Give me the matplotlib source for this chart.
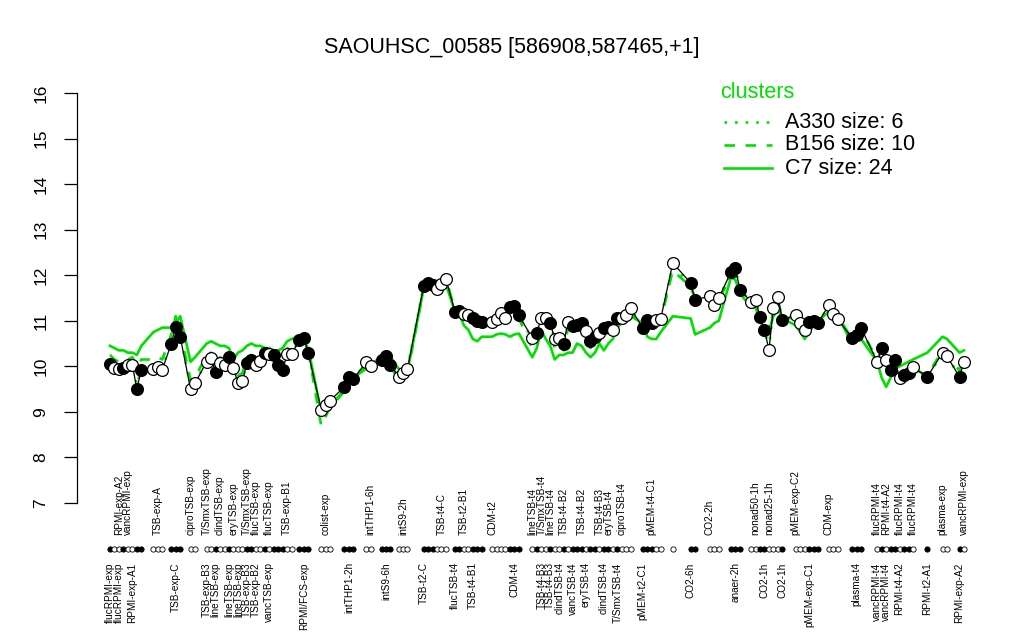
import matplotlib
matplotlib.use('Agg')
import matplotlib.pyplot as plt
from matplotlib.lines import Line2D

plt.rcParams['font.family'] = ['Liberation Sans', 'DejaVu Sans']

title = "SAOUHSC_00585 [586908,587465,+1]"
GREEN = '#00E000'

# ---- expression values, grouped by condition block ----
group_values = [
    [10.05, 9.97, 9.95, 9.97, 10.03, 10.03, 9.5, 9.93],
    [9.95, 9.99, 9.93],
    [10.5, 10.87, 10.65],
    [9.5, 9.63],
    [10.1, 10.18, 9.88, 10.07, 10.03, 10.2, 9.97, 9.63, 9.67, 10.07, 10.14, 10.03, 10.12, 10.3, 10.28, 10.25, 10.03, 9.91, 10.28, 10.26],
    [10.58, 10.62, 10.3],
    [9.05, 9.15, 9.25],
    [9.55, 9.77, 9.72],
    [10.1, 10.0],
    [10.14, 10.22, 10.03],
    [9.77, 9.85, 9.94],
    [11.76, 11.83, 11.78],
    [11.7, 11.8, 11.92],
    [11.2, 11.22, 11.15, 11.13, 11.05, 11.0, 10.97],
    [10.97, 11.03, 11.17, 11.05, 11.3, 11.32, 11.12],
    [10.62, 10.73, 11.06, 11.05, 10.95, 10.6, 10.62, 10.5, 10.98, 10.88, 10.9, 10.95, 10.78, 10.55, 10.65, 10.73, 10.84, 10.86, 10.8, 11.06, 11.05, 11.13, 11.27],
    [10.84, 11.02, 10.95, 11.02, 11.04],
    [12.27],
    [11.83, 11.45],
    [11.55, 11.35, 11.5],
    [12.07, 12.16, 11.68],
    [11.42, 11.46, 11.08, 10.8, 10.36, 11.28, 11.53, 11.02],
    [11.13, 10.95, 10.8, 10.97, 11.0, 10.95],
    [11.35, 11.15, 11.03],
    [10.62, 10.68, 10.84],
    [10.1, 10.4, 10.13, 9.92, 10.13, 9.74, 9.8, 9.86, 9.98],
    [9.77],
    [10.3, 10.22],
    [9.77, 10.1],
]

group_filled = [
    [1, 0, 0, 1, 0, 0, 1, 1],
    [0, 0, 0],
    [1, 1, 1],
    [0, 0],
    [0, 0, 1, 0, 0, 1, 0, 0, 0, 1, 1, 0, 0, 1, 0, 1, 1, 1, 0, 0],
    [1, 1, 1],
    [0, 0, 0],
    [1, 1, 1],
    [0, 0],
    [1, 1, 1],
    [0, 0, 0],
    [1, 1, 1],
    [0, 0, 0],
    [1, 1, 0, 0, 1, 1, 1],
    [0, 0, 0, 0, 1, 1, 1],
    [0, 1, 0, 0, 1, 0, 0, 1, 0, 1, 1, 1, 0, 1, 1, 0, 1, 1, 0, 1, 0, 0, 0],
    [1, 1, 1, 0, 0],
    [0],
    [1, 1],
    [0, 0, 0],
    [1, 1, 1],
    [0, 0, 1, 1, 0, 0, 0, 1],
    [0, 0, 0, 1, 1, 1],
    [0, 0, 0],
    [1, 1, 1],
    [0, 1, 0, 1, 1, 0, 1, 1, 0],
    [1],
    [0, 0],
    [1, 0],
]

# ---- cluster mean profiles ----
dotted_A330 = [
    [10.1, 10.0, 9.95, 10.0, 10.05, 10.05, 9.6, 9.95],
    [9.95, 10.0, 9.95],
    [10.55, 10.9, 10.7],
    [9.55, 9.65],
    [10.1, 10.2, 9.9, 10.1, 10.05, 10.2, 10.0, 9.65, 9.7, 10.1, 10.15, 10.05, 10.15, 10.3, 10.3, 10.25, 10.05, 9.95, 10.3, 10.25],
    [10.6, 10.6, 10.3],
    [9.0, 9.15, 9.25],
    [9.55, 9.75, 9.7],
    [10.1, 10.0],
    [10.15, 10.2, 10.05],
    [9.75, 9.85, 9.95],
    [11.75, 11.85, 11.8],
    [11.7, 11.8, 11.95],
    [11.2, 11.2, 11.15, 11.1, 11.05, 11.0, 10.95],
    [10.95, 11.05, 11.15, 11.05, 11.3, 11.3, 11.1],
    [10.6, 10.75, 11.05, 11.05, 10.95, 10.6, 10.6, 10.5, 10.95, 10.9, 10.9, 10.95, 10.8, 10.55, 10.65, 10.75, 10.85, 10.85, 10.8, 11.05, 11.05, 11.15, 11.25],
    [10.85, 11.0, 10.95, 11.0, 11.05],
    [12.2],
    [11.8, 11.45],
    [11.55, 11.35, 11.5],
    [12.05, 12.15, 11.7],
    [11.4, 11.45, 11.1, 10.8, 10.4, 11.3, 11.5, 11.0],
    [11.15, 10.95, 10.8, 10.95, 11.0, 10.95],
    [11.35, 11.15, 11.05],
    [10.6, 10.7, 10.85],
    [10.1, 10.4, 10.15, 9.9, 10.1, 9.75, 9.8, 9.85, 10.0],
    [9.75],
    [10.3, 10.2],
    [9.8, 10.1],
]

dashed_B156 = [
    [10.25, 10.15, 10.1, 10.1, 10.15, 10.2, 10.0, 10.15],
    [10.15, 10.2, 10.15],
    [10.7, 11.1, 10.75],
    [9.7, 9.75],
    [10.25, 10.3, 10.0, 10.2, 10.15, 10.3, 10.05, 9.8, 9.85, 10.2, 10.25, 10.15, 10.25, 10.35, 10.35, 10.3, 10.1, 10.05, 10.4, 10.35],
    [10.65, 10.6, 10.35],
    [8.7, 8.9, 9.1],
    [9.45, 9.7, 9.65],
    [10.05, 10.0],
    [10.1, 10.15, 10.0],
    [9.7, 9.8, 9.85],
    [11.7, 11.8, 11.75],
    [11.75, 11.8, 11.9],
    [11.25, 11.2, 11.1, 11.05, 10.95, 10.9, 10.9],
    [10.95, 11.0, 11.1, 11.0, 11.25, 11.25, 11.05],
    [10.4, 10.6, 11.0, 10.95, 10.85, 10.4, 10.5, 10.35, 10.85, 10.8, 10.85, 10.85, 10.6, 10.4, 10.55, 10.6, 10.75, 10.8, 10.7, 11.0, 11.0, 11.1, 11.2],
    [10.8, 10.95, 10.9, 10.95, 11.0],
    [12.1],
    [11.75, 11.5],
    [11.5, 11.35, 11.45],
    [12.0, 12.1, 11.6],
    [11.4, 11.45, 11.05, 10.85, 10.7, 11.25, 11.45, 11.0],
    [11.1, 11.0, 10.85, 10.95, 11.0, 10.95],
    [11.3, 11.2, 11.1],
    [10.6, 10.7, 10.8],
    [10.15, 10.35, 10.1, 9.85, 10.05, 9.7, 9.75, 9.8, 9.95],
    [9.8],
    [10.35, 10.3],
    [9.9, 10.2],
]

solid_C7 = [
    [10.45, 10.4, 10.35, 10.35, 10.3, 10.3, 10.25, 10.45],
    [10.75, 10.8, 10.85],
    [10.85, 10.95, 11.1],
    [10.1, 10.2],
    [10.5, 10.55, 10.5, 10.45, 10.45, 10.4, 10.15, 10.3, 10.35, 10.45, 10.5, 10.45, 10.45, 10.4, 10.4, 10.35, 10.35, 10.4, 10.55, 10.6],
    [10.65, 10.55, 10.4],
    [9.0, 9.0, 9.1],
    [9.5, 9.7, 9.75],
    [9.95, 10.05],
    [10.2, 10.25, 10.2],
    [9.95, 9.85, 9.9],
    [11.7, 11.75, 11.75],
    [11.8, 11.85, 11.8],
    [11.2, 11.15, 10.9, 10.8, 10.6, 10.55, 10.65],
    [10.65, 10.7, 10.72, 10.7, 10.65, 10.7, 10.72],
    [10.2, 10.4, 10.8, 10.6, 10.45, 10.15, 10.25, 10.25, 10.3, 10.3, 10.5, 10.45, 10.3, 10.2, 10.3, 10.5, 10.35, 10.5, 10.6, 10.85, 10.95, 11.05, 11.1],
    [10.95, 10.65, 10.6, 10.6, 10.75],
    [11.1],
    [11.05, 10.7],
    [10.85, 10.95, 11.0],
    [11.95, 11.9, 11.6],
    [11.3, 11.3, 11.0, 10.8, 10.8, 11.1, 11.25, 11.05],
    [10.9, 10.75, 10.6, 10.75, 10.9, 11.0],
    [11.2, 11.25, 11.1],
    [10.5, 10.55, 10.6],
    [10.1, 9.75, 9.55, 9.75, 9.95, 10.0, 10.05, 10.1, 10.15],
    [10.3],
    [10.65, 10.6],
    [10.3, 10.35],
]

# ---- condition labels: (text, sample index, row) ----
labels = [
    ("flucRPMI-exp", 0, "b"), ("RPMI-exp-A2", 2, "t"), ("flucRPMI-exp", 2, "b"),
    ("vancRPMI-exp", 4, "t"), ("RPMI-exp-A1", 5, "b"), ("TSB-exp-A", 9, "t"),
    ("TSB-exp-C", 12, "b"), ("ciproTSB-exp", 14, "t"), ("TSB-exp-B3", 16, "b"),
    ("T/SmxTSB-exp", 16, "t"), ("lineTSB-exp", 18, "b"), ("clindTSB-exp", 19, "t"),
    ("lineTSB-exp", 21, "b"), ("eryTSB-exp", 22, "t"), ("lineTSB-exp", 23, "b"),
    ("TSB-exp-B3", 25, "b"), ("T/SmxTSB-exp", 25, "t"), ("flucTSB-exp", 27, "t"),
    ("TSB-exp-B2", 27, "b"), ("flucTSB-exp", 30, "t"), ("vancTSB-exp", 30, "b"),
    ("TSB-exp-B1", 34, "t"), ("RPMI/FCS-exp", 37, "b"), ("colist-exp", 40, "t"),
    ("intTHP1-2h", 43, "b"), ("intTHP1-6h", 46, "t"), ("intS9-6h", 48, "b"),
    ("intS9-2h", 51, "t"), ("TSB-t2-C", 53, "b"), ("TSB-t4-C", 57, "t"),
    ("flucTSB-t4", 59, "b"), ("TSB-t2-B1", 61, "t"), ("TSB-t4-B1", 63, "b"),
    ("CDM-t2", 66, "t"), ("CDM-t4", 71, "b"), ("lineTSB-t4", 73, "t"),
    ("TSB-t4-B3", 75, "b"), ("T/SmxTSB-t4", 75, "t"), ("lineTSB-t4", 77, "t"),
    ("TSB-t4-B3", 77, "b"), ("clindTSB-t4", 79, "b"), ("TSB-t4-B2", 80, "t"),
    ("vancTSB-t4", 82, "b"), ("TSB-t4-B2", 84, "t"), ("eryTSB-t4", 85, "b"),
    ("TSB-t4-B3", 88, "t"), ("clindTSB-t4", 89, "b"), ("eryTSB-t4", 90, "t"),
    ("T/SmxTSB-t4", 92, "b"), ("ciproTSB-t4", 93, "t"), ("pMEM-t2-C1", 96, "b"),
    ("pMEM-t4-C1", 98, "t"), ("CO2-6h", 102, "b"), ("CO2-2h", 104, "t"),
    ("anaer-2h", 108, "b"), ("nonad50-1h", 111, "t"), ("CO2-1h", 113, "b"),
    ("nonad25-1h", 114, "t"), ("CO2-1h", 117, "b"), ("pMEM-exp-C2", 118, "t"),
    ("pMEM-exp-C1", 121, "b"), ("CDM-exp", 124, "t"), ("plasma-t4", 128, "b"),
    ("flucRPMI-t4", 130, "t"), ("vancRPMI-t4", 130, "b"), ("RPMI-t4-A2", 132, "t"),
    ("vancRPMI-t4", 132, "b"), ("RPMI-t4-A2", 135, "b"), ("flucRPMI-t4", 135, "t"),
    ("flucRPMI-t4", 138, "t"), ("RPMI-t2-A1", 139, "b"), ("plasma-exp", 140, "t"),
    ("RPMI-exp-A2", 142, "b"), ("vancRPMI-exp", 143, "t"),
]

legend_entries = [("A330 size: 6", ':'), ("B156 size: 10", '--'), ("C7 size: 24", '-')]

# layout: extra spacing (in sample slots) after each condition block
group_gaps = [1.7, 1.0, 1.3, 1.6, 0.7, 1.9, 2.2, 1.9, 1.4, 0.8, 2.6, 0.0, 1.0, 1.3,
              2.0, 1.7, 1.7, 3.0, 2.3, 1.7, 1.5, 2.0, 1.4, 2.2, 2.6, 2.2, 2.4, 1.8, 0.0]

# ---- flatten groups into sample positions ----
xs, vals, fills, dA, dB, dC = [], [], [], [], [], []
pos = 0.0
for gv, gf, ga, gb, gc, gap in zip(group_values, group_filled, dotted_A330,
                                   dashed_B156, solid_C7, group_gaps):
    for v, f, a, b, c in zip(gv, gf, ga, gb, gc):
        xs.append(pos)
        vals.append(v)
        fills.append(f)
        dA.append(a)
        dB.append(b)
        dC.append(c)
        pos += 1
    pos += gap

W, H = 1024, 640
fig = plt.figure(figsize=(W / 100, H / 100), dpi=100)
ax = fig.add_axes([77 / W, 0.1884, 920 / W, 0.692])

span = xs[-1] - xs[0]
ax.set_xlim(xs[0] - 33 / 854 * span, xs[-1] + 33 / 854 * span)
ax.set_ylim(6.64, 16.36)

lw_g = 1.9
ax.plot(xs, dA, color=GREEN, lw=lw_g, linestyle=(0, (1, 3)), zorder=2)
ax.plot(xs, dB, color=GREEN, lw=lw_g, linestyle=(0, (4, 4)), zorder=2)
ax.plot(xs, dC, color=GREEN, lw=lw_g, linestyle='-', zorder=2)

ax.plot(xs, vals, color='black', lw=0.9, zorder=3)
for x, v, f in zip(xs, vals, fills):
    ax.plot([x], [v], marker='o', markersize=8.5, markeredgewidth=0.9,
            markeredgecolor='black', markerfacecolor='black' if f else 'white', zorder=4)

# sample dot row below the plot
for x, f in zip(xs, fills):
    ax.plot([x], [5.99], marker='o', markersize=3.8, markeredgewidth=0.6,
            markeredgecolor='black', markerfacecolor='black' if f else 'white',
            clip_on=False, zorder=4)

for text, idx, row in labels:
    if row == 't':
        ax.text(xs[idx], 6.30, text, rotation=90, ha='center', va='bottom',
                fontsize=7.2, clip_on=False)
    else:
        ax.text(xs[idx], 5.70, text, rotation=90, ha='center', va='top',
                fontsize=7.2, clip_on=False)

for s in ['top', 'right', 'bottom']:
    ax.spines[s].set_visible(False)
ax.spines['left'].set_bounds(7, 16)
ax.spines['left'].set_linewidth(0.9)
ax.set_xticks([])
ax.set_yticks(range(7, 17))
ax.tick_params(axis='y', length=9.5, width=0.9, pad=11, labelsize=12.5)
for lab in ax.get_yticklabels():
    lab.set_rotation(90)
    lab.set_va('center')

fig.text(0.5, 1 - 47 / H, title, ha='center', va='center', fontsize=15.5)

# legend
fig.text(720 / W, 1 - 92 / H, "clusters", color=GREEN, fontsize=15.5, ha='left', va='center')
for i, (lab, ls) in enumerate(legend_entries):
    yy = 1 - (122 + 23 * i) / H
    style = (0, (1, 3)) if ls == ':' else ((0, (4, 4)) if ls == '--' else '-')
    fig.add_artist(Line2D([724 / W, 772 / W], [yy, yy], color=GREEN, lw=lw_g,
                          linestyle=style, transform=fig.transFigure))
    fig.text(785 / W, yy, lab, fontsize=15.5, ha='left', va='center')

fig.savefig('out.png', dpi=100)
